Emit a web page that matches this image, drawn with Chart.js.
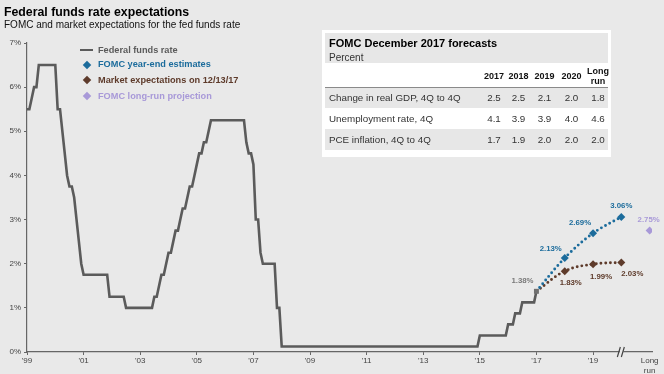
<!DOCTYPE html>
<html>
<head>
<meta charset="utf-8">
<script src="https://cdn.jsdelivr.net/npm/chart.js@4.4.1/dist/chart.umd.min.js"></script>
<style>
  html, body { margin: 0; padding: 0; background: #e9e9e9; }
  #wrap { position: relative; width: 664px; height: 374px; overflow: hidden; font-family: Arial, "Liberation Sans", sans-serif; }
  #chart { position: absolute; left: 0; top: 0; }
  .abs { position: absolute; white-space: nowrap; }
  .title { left: 4px; top: 5px; font-size: 12.3px; font-weight: bold; color: #000; line-height: 14px; }
  .subtitle { left: 4px; top: 19px; font-size: 10px; color: #111; line-height: 12px; }
  .leg { font-size: 9.2px; font-weight: bold; line-height: 11px; }
  .dia { position: absolute; width: 6px; height: 6px; transform: rotate(45deg); }
  #fc { position: absolute; left: 322px; top: 30px; width: 289px; height: 127px; background: #fff; }
  #fc .band { position: absolute; left: 3px; right: 3px; background: #e7e7e7; }
  #fc .t { position: absolute; white-space: nowrap; color: #333; font-size: 9.8px; }
  #fc .h { position: absolute; white-space: nowrap; color: #111; font-size: 9px; font-weight: bold; text-align: center; }
</style>
</head>
<body>
<div id="wrap">
  <canvas id="chart" width="664" height="374"></canvas>
  <div class="abs title">Federal funds rate expectations</div>
  <div class="abs subtitle">FOMC and market expectations for the fed funds rate</div>
  <div id="legend"></div>
  <div id="fc"></div>
</div>
<script>
// Fed funds rate, month-end values (vertices of the line), midpoint of target range after 2008
const fedFundsMonths = ['1999-12','2000-01','2000-02','2000-03','2000-04','2000-05','2000-12','2001-01','2001-02','2001-03',
  '2001-04','2001-05','2001-06','2001-07','2001-08','2001-09','2001-10','2001-11','2001-12','2002-10',
  '2002-11','2003-05','2003-06','2004-05','2004-06','2004-07','2004-08','2004-09','2004-10','2004-11',
  '2004-12','2005-01','2005-02','2005-03','2005-04','2005-05','2005-06','2005-07','2005-08','2005-09',
  '2005-10','2005-11','2005-12','2006-01','2006-02','2006-03','2006-04','2006-05','2006-06','2007-08',
  '2007-09','2007-10','2007-11','2007-12','2008-01','2008-02','2008-03','2008-04','2008-09','2008-10',
  '2008-11','2008-12','2015-11','2015-12','2016-11','2016-12','2017-02','2017-03','2017-05','2017-06',
  '2017-11','2017-12'];
const fedFundsRates = [5.5, 5.5, 5.75, 6.0, 6.0, 6.5, 6.5, 5.5, 5.5, 5.0,
  4.5, 4.0, 3.75, 3.75, 3.5, 3.0, 2.5, 2.0, 1.75, 1.75,
  1.25, 1.25, 1.0, 1.0, 1.25, 1.25, 1.5, 1.75, 1.75, 2.0,
  2.25, 2.25, 2.5, 2.75, 2.75, 3.0, 3.25, 3.25, 3.5, 3.75,
  3.75, 4.0, 4.25, 4.5, 4.5, 4.75, 4.75, 5.0, 5.25, 5.25,
  4.75, 4.5, 4.5, 4.25, 3.0, 3.0, 2.25, 2.0, 2.0, 1.0,
  1.0, 0.125, 0.125, 0.375, 0.375, 0.625, 0.625, 0.875, 0.875, 1.125,
  1.125, 1.375];

// projections: Dec 2017 start, then year-end 2018, 2019, 2020
const projMonths = ['2017-12', '2018-12', '2019-12', '2020-12'];
const fomcEstimates = [1.375, 2.13, 2.69, 3.06];
const marketExpectations = [1.375, 1.83, 1.99, 2.03];
const longRunMonth = '2021-12';
const longRunProjection = 2.75;

// x axis
const tickMonths = ['1999-12','2001-12','2003-12','2005-12','2007-12','2009-12','2011-12','2013-12','2015-12','2017-12','2019-12','2021-12'];
const tickLabels = ["'99","'01","'03","'05","'07","'09","'11","'13","'15","'17","'19",['Long','run']];
const breakMonth = '2020-12';

// forecast table
const tableCols = ['2017', '2018', '2019', '2020', 'Long run'];
const tableRows = ['Change in real GDP, 4Q to 4Q', 'Unemployment rate, 4Q', 'PCE inflation, 4Q to 4Q'];
const gdpForecast = [2.5, 2.5, 2.1, 2.0, 1.8];
const unemploymentForecast = [4.1, 3.9, 3.9, 4.0, 4.6];
const pceForecast = [1.7, 1.9, 2.0, 2.0, 2.0];

const GRAY = '#5b5b5b', BLUE = '#1c6c9c', BROWN = '#5e3b2b', LAVENDER = '#a899d8';

// months since Jan 1999
function monthIdx(s) {
  const [y, m] = s.split('-').map(Number);
  return (y - 1999) * 12 + (m - 1);
}
const toPoints = (months, vals) => months.map((m, i) => ({ x: monthIdx(m), y: vals[i] }));

// legend
const legendItems = [
  { label: 'Federal funds rate', color: GRAY, line: true },
  { label: 'FOMC year-end estimates', color: BLUE },
  { label: 'Market expectations on 12/13/17', color: BROWN },
  { label: 'FOMC long-run projection', color: LAVENDER }
];
const legendTops = [50, 64.5, 80, 96];
const legendEl = document.getElementById('legend');
legendItems.forEach((it, i) => {
  const cy = legendTops[i];
  const mark = document.createElement('div');
  if (it.line) {
    mark.className = 'abs';
    mark.style.cssText = `left:80px;top:${cy - 1.3}px;width:13px;height:2.6px;background:${it.color}`;
  } else {
    mark.className = 'dia';
    mark.style.cssText = `left:${87 - 3}px;top:${cy - 3}px;background:${it.color}`;
  }
  legendEl.appendChild(mark);
  const txt = document.createElement('div');
  txt.className = 'abs leg';
  txt.style.cssText = `left:98px;top:${cy - 5.5}px;color:${it.color}`;
  txt.textContent = it.label;
  legendEl.appendChild(txt);
});

// forecast table (coords relative to the box)
const fc = document.getElementById('fc');
const colCenters = [172, 196.5, 222.5, 249.5, 276];
const rowBands = [[58, 78], [78, 99], [99, 120]];
fc.innerHTML = `
  <div class="band" style="top:3px;height:30px"></div>
  <div class="t" style="left:7px;top:7px;font-size:11px;font-weight:bold;color:#000;line-height:13px">FOMC December 2017 forecasts</div>
  <div class="t" style="left:7px;top:21.5px;font-size:10px;line-height:12px">Percent</div>
  <div style="position:absolute;left:3px;right:3px;top:57px;height:1px;background:#8a8a8a"></div>`;
tableCols.forEach((c, j) => {
  const h = document.createElement('div');
  h.className = 'h';
  const two = c.includes(' ');
  h.style.cssText = `left:${colCenters[j] - 15}px;width:30px;top:${two ? 35.5 : 41}px;line-height:10px`;
  h.innerHTML = two ? c.replace(' ', '<br>') : c;
  fc.appendChild(h);
});
[gdpForecast, unemploymentForecast, pceForecast].forEach((vals, r) => {
  const [t, b] = rowBands[r];
  if (r !== 1) {
    const band = document.createElement('div');
    band.className = 'band';
    band.style.cssText = `top:${t}px;height:${b - t}px`;
    fc.appendChild(band);
  }
  const mid = (t + b) / 2;
  const lab = document.createElement('div');
  lab.className = 't';
  lab.style.cssText = `left:7px;top:${mid - 6}px;line-height:12px`;
  lab.textContent = tableRows[r];
  fc.appendChild(lab);
  vals.forEach((v, j) => {
    const d = document.createElement('div');
    d.className = 't';
    d.style.cssText = `left:${colCenters[j] - 12}px;width:24px;text-align:center;top:${mid - 6}px;line-height:12px`;
    d.textContent = v.toFixed(1);
    fc.appendChild(d);
  });
});

// value labels next to projection points: [dx, dy] from the marker
const labelOffsets = {
  fed: { last: [-14, -10] },
  fomc: [null, [-14, -9], [-13, -10], [0, -11]],
  market: [null, [6, 12], [8, 13], [11, 11]],
  longrun: [[-1, -11]]
};

const pointLabels = {
  id: 'pointLabels',
  afterDatasetsDraw(chart) {
    const ctx = chart.ctx;
    ctx.save();
    ctx.font = 'bold 7.8px Arial, "Liberation Sans", sans-serif';
    ctx.textAlign = 'center';
    ctx.textBaseline = 'middle';
    chart.data.datasets.forEach((ds, di) => {
      const meta = chart.getDatasetMeta(di);
      const offs = labelOffsets[ds.key];
      meta.data.forEach((pt, i) => {
        let o = null;
        if (ds.key === 'fed') { if (i === meta.data.length - 1) o = offs.last; }
        else o = offs[i];
        if (!o) return;
        ctx.fillStyle = ds.key === 'fed' ? '#7a7a7a' : ds.borderColor === 'transparent' ? ds.pointBackgroundColor : ds.borderColor;
        ctx.fillText(ds.data[i].y.toFixed(2) + '%', pt.x + o[0], pt.y + o[1]);
      });
    });
    ctx.restore();
  }
};

const axisBreak = {
  id: 'axisBreak',
  afterDraw(chart) {
    const ctx = chart.ctx;
    const x = chart.scales.x.getPixelForValue(monthIdx(breakMonth));
    const y = chart.scales.y.getPixelForValue(0);
    ctx.save();
    ctx.fillStyle = '#e9e9e9';
    ctx.fillRect(x - 1.5, y - 2, 3.5, 4);
    ctx.strokeStyle = '#444';
    ctx.lineWidth = 1.2;
    ctx.beginPath();
    ctx.moveTo(x - 4, y + 5); ctx.lineTo(x - 1, y - 5);
    ctx.moveTo(x, y + 5); ctx.lineTo(x + 3, y - 5);
    ctx.stroke();
    ctx.restore();
  }
};

const fedPts = toPoints(fedFundsMonths, fedFundsRates);
const lastFed = fedPts.length - 1;
const tickVals = tickMonths.map(monthIdx);

new Chart(document.getElementById('chart'), {
  type: 'line',
  data: {
    datasets: [
      {
        key: 'fed',
        data: fedPts,
        borderColor: GRAY,
        borderWidth: 2.6,
        pointStyle: 'rect',
        pointRadius: ctx => ctx.dataIndex === lastFed ? 3.5 : 0,
        pointBackgroundColor: '#707070',
        pointBorderWidth: 0
      },
      {
        key: 'fomc',
        data: toPoints(projMonths, fomcEstimates),
        borderColor: BLUE,
        borderWidth: 2.9,
        borderDash: [0, 4.8],
        borderCapStyle: 'round',
        tension: 0.35,
        pointStyle: 'rectRot',
        pointRadius: [0, 4, 4, 4],
        pointBackgroundColor: BLUE,
        pointBorderWidth: 0
      },
      {
        key: 'market',
        data: toPoints(projMonths, marketExpectations),
        borderColor: BROWN,
        borderWidth: 2.9,
        borderDash: [0, 4.8],
        borderCapStyle: 'round',
        tension: 0.4,
        pointStyle: 'rectRot',
        pointRadius: [0, 4, 4, 4],
        pointBackgroundColor: BROWN,
        pointBorderWidth: 0
      },
      {
        key: 'longrun',
        data: [{ x: monthIdx(longRunMonth), y: longRunProjection }],
        showLine: false,
        borderColor: 'transparent',
        pointStyle: 'rectRot',
        pointRadius: 4,
        pointBackgroundColor: LAVENDER,
        pointBorderWidth: 0
      }
    ]
  },
  options: {
    responsive: false,
    animation: false,
    layout: { padding: { top: 43, right: 12, left: 0, bottom: 0 } },
    plugins: { legend: { display: false }, tooltip: { enabled: false } },
    scales: {
      x: {
        type: 'linear',
        min: monthIdx('1999-12'),
        max: monthIdx('2022-01'),
        afterFit: s => { s.height = 22; },
        afterBuildTicks: s => { s.ticks = tickVals.map(v => ({ value: v })); },
        ticks: {
          autoSkip: false,
          maxRotation: 0,
          padding: 1,
          color: '#444',
          font: { size: 8, family: 'Arial, "Liberation Sans", sans-serif' },
          callback: (v, i) => tickLabels[i]
        },
        grid: {
          drawOnChartArea: false,
          tickLength: 3,
          color: c => (c.tick && c.tick.value === tickVals[tickVals.length - 1]) ? 'rgba(0,0,0,0)' : '#666'
        },
        border: { color: '#666', width: 1.2 }
      },
      y: {
        min: 0,
        max: 7,
        afterFit: s => { s.width = 27; },
        ticks: {
          stepSize: 1,
          padding: 3,
          color: '#444',
          font: { size: 8, family: 'Arial, "Liberation Sans", sans-serif' },
          callback: v => v + '%'
        },
        grid: { drawOnChartArea: false, tickLength: 3, color: '#666' },
        border: { color: '#666', width: 1.2 }
      }
    }
  },
  plugins: [pointLabels, axisBreak]
});
</script>
</body>
</html>
